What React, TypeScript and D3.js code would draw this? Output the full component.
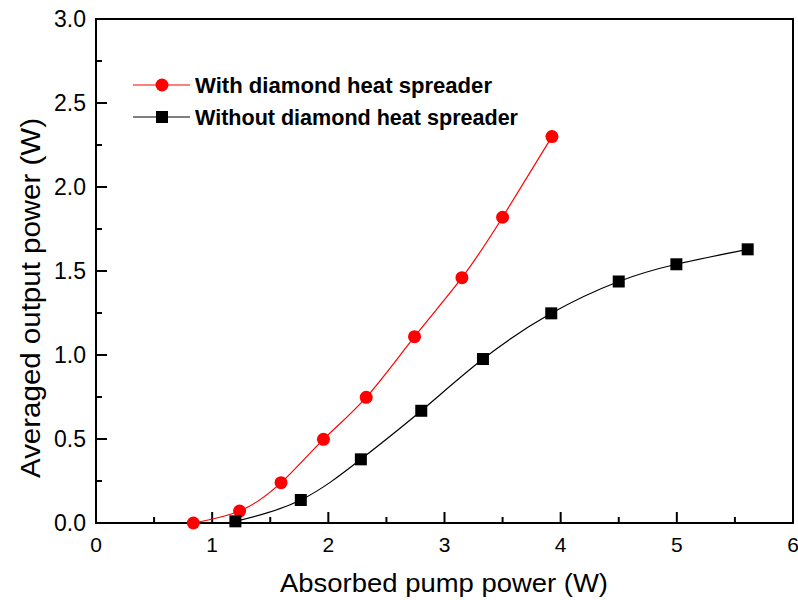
import React from "react";
import * as d3 from "d3";

const withX = [0.838, 1.236, 1.593, 1.958, 2.326, 2.742, 3.15, 3.5, 3.925];
const withY = [0.0, 0.071, 0.24, 0.498, 0.748, 1.109, 1.46, 1.82, 2.3];
const withoutX = [1.2, 1.763, 2.28, 2.8, 3.331, 3.919, 4.5, 4.996, 5.61];
const withoutY = [0.01, 0.137, 0.379, 0.668, 0.976, 1.248, 1.4375, 1.54, 1.629];
const xTicks = [0, 1, 2, 3, 4, 5, 6];
const yTicks = [0, 0.5, 1.0, 1.5, 2.0, 2.5, 3.0];
const seriesNames = ["With diamond heat spreader", "Without diamond heat spreader"];
const xTitle = "Absorbed pump power (W)";
const yTitle = "Averaged output power (W)";

const W = 798, H = 600;
const L = 96, R = 793, T = 19, B = 523;

export default function App() {
  const x = d3.scaleLinear().domain([0, 6]).range([L, R]);
  const y = d3.scaleLinear().domain([0, 3]).range([B, T]);
  const line = d3
    .line<[number, number]>()
    .x((d) => x(d[0]))
    .y((d) => y(d[1]))
    .curve(d3.curveNatural);
  const red: [number, number][] = withX.map((v, i) => [v, withY[i]]);
  const blk: [number, number][] = withoutX.map((v, i) => [v, withoutY[i]]);
  const xMinor = d3.range(0.5, 6, 1);
  const yMinor = d3.range(0.25, 3, 0.5);
  const font = "Liberation Sans, Arial, sans-serif";
  return (
    <svg width={W} height={H} style={{ position: "absolute", left: 0, top: 0, background: "#fff" }} fontFamily={font}>
      <rect x={0} y={0} width={W} height={H} fill="#fff" />
      {/* ticks */}
      {xTicks.map((t) => (
        <line key={"xt" + t} x1={x(t)} x2={x(t)} y1={B} y2={B - 11} stroke="#000" strokeWidth={2} />
      ))}
      {xMinor.map((t) => (
        <line key={"xm" + t} x1={x(t)} x2={x(t)} y1={B} y2={B - 6} stroke="#000" strokeWidth={2} />
      ))}
      {yTicks.map((t) => (
        <line key={"yt" + t} x1={L} x2={L + 11} y1={y(t)} y2={y(t)} stroke="#000" strokeWidth={2} />
      ))}
      {yMinor.map((t) => (
        <line key={"ym" + t} x1={L} x2={L + 6} y1={y(t)} y2={y(t)} stroke="#000" strokeWidth={2} />
      ))}
      <rect x={L} y={T} width={R - L} height={B - T} fill="none" stroke="#000" strokeWidth={2} />
      {/* tick labels */}
      {xTicks.map((t) => (
        <text key={"xl" + t} x={x(t)} y={552} fontSize={21} textAnchor="middle" fill="#000">
          {d3.format("d")(t)}
        </text>
      ))}
      {yTicks.map((t) => (
        <text key={"yl" + t} x={86} y={y(t) + 8} fontSize={23} textAnchor="end" fill="#000">
          {d3.format(".1f")(t)}
        </text>
      ))}
      {/* titles */}
      <text x={280} y={592} fontSize={26} textLength={328} lengthAdjust="spacingAndGlyphs" fill="#000">
        {xTitle}
      </text>
      <text
        transform={`translate(40,${478}) rotate(-90)`}
        fontSize={27}
        textLength={360}
        lengthAdjust="spacingAndGlyphs"
        fill="#000"
      >
        {yTitle}
      </text>
      {/* series */}
      <path d={line(red) || ""} fill="none" stroke="#ff0000" strokeWidth={1.2} />
      <path d={line(blk) || ""} fill="none" stroke="#000" strokeWidth={1.2} />
      {red.map((d, i) => (
        <circle key={"r" + i} cx={x(d[0])} cy={y(d[1])} r={6.5} fill="#ff0000" />
      ))}
      {blk.map((d, i) => (
        <rect key={"b" + i} x={x(d[0]) - 6} y={y(d[1]) - 6} width={12} height={12} fill="#000" />
      ))}
      {/* legend */}
      <line x1={133} x2={190} y1={85} y2={85} stroke="#ff0000" strokeWidth={1.2} />
      <circle cx={162} cy={85} r={6.5} fill="#ff0000" />
      <text x={195} y={93} fontSize={22} fontWeight="bold" textLength={297} lengthAdjust="spacingAndGlyphs" fill="#000">
        {seriesNames[0]}
      </text>
      <line x1={133} x2={190} y1={117} y2={117} stroke="#000" strokeWidth={1.2} />
      <rect x={156} y={111} width={12} height={12} fill="#000" />
      <text x={195} y={125} fontSize={22} fontWeight="bold" textLength={323} lengthAdjust="spacingAndGlyphs" fill="#000">
        {seriesNames[1]}
      </text>
    </svg>
  );
}
